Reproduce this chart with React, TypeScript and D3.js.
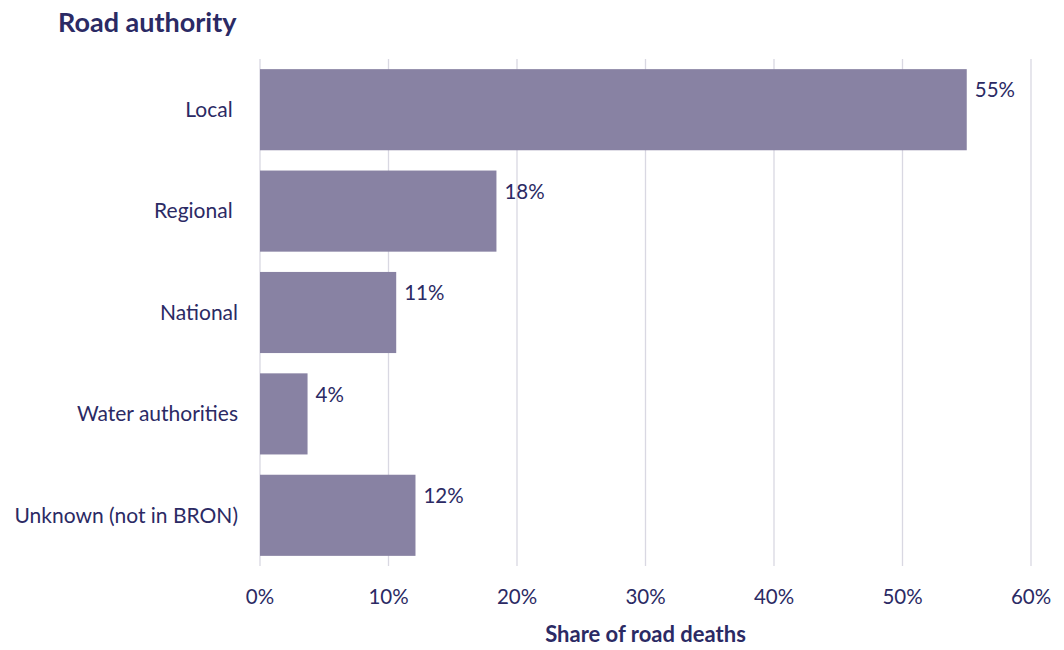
import React from "react";
import * as d3 from "d3";

const categories = ["Local ", "Regional ", "National", "Water authorities", "Unknown (not in BRON)"];
const values = [55.0, 18.4, 10.6, 3.7, 12.1];
const valueLabels = ["55%", "18%", "11%", "4%", "12%"];
const xTicks = [0, 10, 20, 30, 40, 50, 60];

const W = 1064;
const H = 650;
const margin = { left: 260, right: 33, top: 59, bottom: 84 };
const navy = "#2B2A64";
const barColor = "#8882A3";
const gridColor = "#D9D8E2";
const font = "Lato, 'Open Sans', sans-serif";

export default function App() {
  const x = d3.scaleLinear().domain([0, 60]).range([margin.left, W - margin.right]);
  const y = d3
    .scaleBand<string>()
    .domain(categories)
    .range([margin.top, H - margin.bottom])
    .paddingInner(0.2)
    .paddingOuter(0.1);

  return (
    <svg
      width={W}
      height={H}
      style={{ position: "absolute", left: 0, top: 0, display: "block" }}
      fontFamily={font}
    >
      <rect width={W} height={H} fill="#fff" />
      <text x={58} y={32} fontSize={27} fontWeight={700} fill={navy}>
        Road authority
      </text>
      {xTicks.map((t) => (
        <line
          key={t}
          x1={x(t)}
          x2={x(t)}
          y1={margin.top}
          y2={H - margin.bottom}
          stroke={gridColor}
          strokeWidth={1.3}
        />
      ))}
      {categories.map((c, i) => (
        <g key={c}>
          <rect
            x={x(0)}
            y={y(c)!}
            width={x(values[i]) - x(0)}
            height={y.bandwidth()}
            fill={barColor}
          />
          <text
            x={x(values[i]) + 8}
            y={y(c)! + 23}
            dominantBaseline="middle"
            fontSize={20.5}
            fill={navy}
          >
            {valueLabels[i]}
          </text>
          <text
            x={238}
            y={y(c)! + y.bandwidth() / 2 + 2}
            dominantBaseline="middle"
            textAnchor="end"
            fontSize={21}
            fill={navy}
            style={{ whiteSpace: "pre" }}
          >
            {c}
          </text>
        </g>
      ))}
      {xTicks.map((t) => (
        <text
          key={"l" + t}
          x={x(t)}
          y={599}
          textAnchor="middle"
          dominantBaseline="middle"
          fontSize={20.5}
          fill={navy}
        >
          {t + "%"}
        </text>
      ))}
      <text
        x={(x(0) + x(60)) / 2}
        y={636}
        textAnchor="middle"
        dominantBaseline="middle"
        fontSize={22}
        fontWeight={700}
        fill={navy}
      >
        Share of road deaths
      </text>
    </svg>
  );
}
